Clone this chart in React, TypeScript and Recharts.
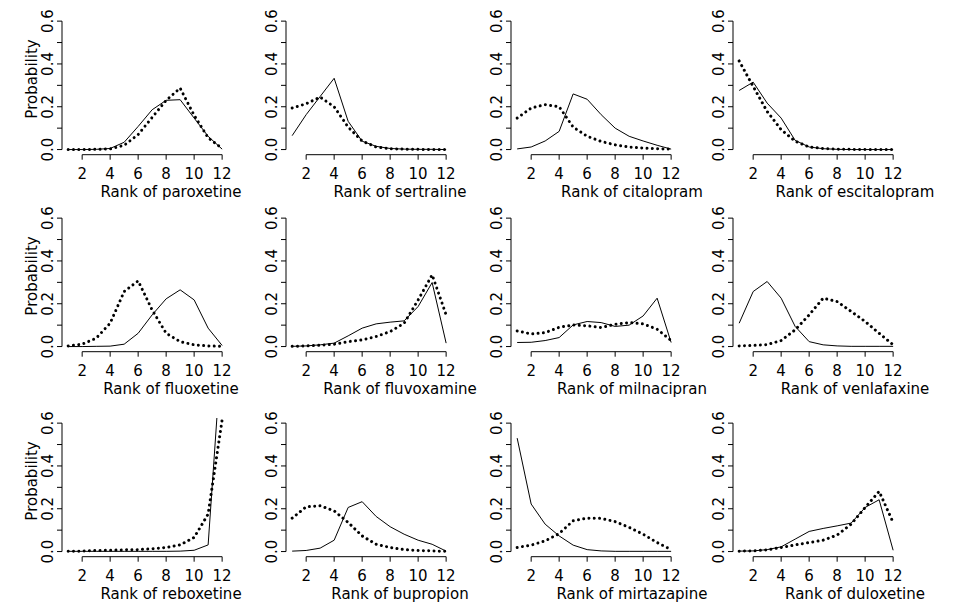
import React from "react";
import { LineChart, Line, XAxis, YAxis, ReferenceLine } from "recharts";

// ranks 1..12
const ranks = [1, 2, 3, 4, 5, 6, 7, 8, 9, 10, 11, 12];
const xTicks = [2, 4, 6, 8, 10, 12];
const yTicks = [0, 0.1, 0.2, 0.3, 0.4, 0.5, 0.6];

const drugs = [
  "paroxetine", "sertraline", "citalopram", "escitalopram",
  "fluoxetine", "fluvoxamine", "milnacipran", "venlafaxine",
  "reboxetine", "bupropion", "mirtazapine", "duloxetine",
];

// solid line / dotted line, one value per rank
const paroxetineSolid = [0, 0, 0.001, 0.005, 0.034, 0.108, 0.186, 0.23, 0.233, 0.147, 0.062, 0.002];
const paroxetineDotted = [0, 0, 0.001, 0.003, 0.02, 0.07, 0.15, 0.23, 0.287, 0.16, 0.055, 0.005];
const sertralineSolid = [0.065, 0.163, 0.248, 0.333, 0.132, 0.039, 0.015, 0.005, 0.002, 0.001, 0.001, 0];
const sertralineDotted = [0.194, 0.214, 0.245, 0.2, 0.105, 0.04, 0.012, 0.004, 0.002, 0.001, 0, 0];
const citalopramSolid = [0.003, 0.012, 0.04, 0.085, 0.26, 0.235, 0.163, 0.1, 0.062, 0.04, 0.02, 0.002];
const citalopramDotted = [0.147, 0.194, 0.21, 0.2, 0.105, 0.062, 0.038, 0.022, 0.012, 0.007, 0.004, 0.002];
const escitalopramSolid = [0.276, 0.315, 0.217, 0.147, 0.043, 0.012, 0.004, 0.001, 0, 0, 0, 0];
const escitalopramDotted = [0.414, 0.295, 0.178, 0.093, 0.039, 0.012, 0.005, 0.002, 0.001, 0, 0, 0];
const fluoxetineSolid = [0, 0, 0.001, 0.002, 0.011, 0.062, 0.148, 0.223, 0.265, 0.218, 0.086, 0.005];
const fluoxetineDotted = [0.003, 0.011, 0.039, 0.109, 0.257, 0.307, 0.171, 0.062, 0.023, 0.008, 0.003, 0.001];
const fluvoxamineSolid = [0.001, 0.003, 0.008, 0.016, 0.05, 0.086, 0.106, 0.114, 0.12, 0.187, 0.299, 0.016];
const fluvoxamineDotted = [0.001, 0.003, 0.006, 0.011, 0.023, 0.031, 0.047, 0.07, 0.109, 0.218, 0.335, 0.148];
const milnacipranSolid = [0.019, 0.02, 0.028, 0.042, 0.101, 0.117, 0.112, 0.094, 0.1, 0.143, 0.226, 0.019];
const milnacipranDotted = [0.073, 0.059, 0.065, 0.09, 0.101, 0.097, 0.089, 0.104, 0.112, 0.106, 0.081, 0.028];
const venlafaxineSolid = [0.109, 0.257, 0.304, 0.226, 0.094, 0.023, 0.008, 0.003, 0.001, 0.001, 0.001, 0.001];
const venlafaxineDotted = [0.003, 0.005, 0.009, 0.028, 0.078, 0.148, 0.226, 0.21, 0.164, 0.117, 0.062, 0.008];
const reboxetineSolid = [0.001, 0.001, 0.001, 0.001, 0.001, 0.001, 0.001, 0.001, 0.002, 0.006, 0.031, 0.98];
const reboxetineDotted = [0.001, 0.002, 0.005, 0.006, 0.008, 0.009, 0.013, 0.019, 0.031, 0.066, 0.175, 0.616];
const bupropionSolid = [0.002, 0.005, 0.016, 0.053, 0.206, 0.233, 0.164, 0.116, 0.081, 0.053, 0.034, 0.002];
const bupropionDotted = [0.156, 0.209, 0.214, 0.19, 0.136, 0.073, 0.034, 0.019, 0.009, 0.005, 0.003, 0.001];
const mirtazapineSolid = [0.53, 0.222, 0.128, 0.073, 0.03, 0.009, 0.003, 0.001, 0.001, 0.001, 0.001, 0.001];
const mirtazapineDotted = [0.019, 0.03, 0.05, 0.084, 0.144, 0.156, 0.155, 0.14, 0.113, 0.081, 0.042, 0.009];
const duloxetineSolid = [0.002, 0.003, 0.009, 0.022, 0.058, 0.094, 0.108, 0.12, 0.133, 0.206, 0.242, 0.006];
const duloxetineDotted = [0.002, 0.003, 0.008, 0.019, 0.031, 0.042, 0.053, 0.077, 0.128, 0.206, 0.281, 0.136];

const solidSeries = [
  paroxetineSolid, sertralineSolid, citalopramSolid, escitalopramSolid,
  fluoxetineSolid, fluvoxamineSolid, milnacipranSolid, venlafaxineSolid,
  reboxetineSolid, bupropionSolid, mirtazapineSolid, duloxetineSolid,
];
const dottedSeries = [
  paroxetineDotted, sertralineDotted, citalopramDotted, escitalopramDotted,
  fluoxetineDotted, fluvoxamineDotted, milnacipranDotted, venlafaxineDotted,
  reboxetineDotted, bupropionDotted, mirtazapineDotted, duloxetineDotted,
];

// layout (page pixels)
const COL_LEFT = [61.5, 285.5, 510.5, 732.5];
const ROW_TOP = [15.9, 213.2, 417.6];
const TITLE_X = [171, 400, 632, 855];
const PLOT_W = 166.3;
const PLOT_H = 138.7;
const Y_W = 70;
const M_TOP = 8;
const M_RIGHT = 8;
const X_H = 50;
const FONT = "'DejaVu Sans', Verdana, sans-serif";
const FS = 15;

const XTick = (props: any) => {
  const { x, y, payload } = props;
  return (
    <text x={x} y={y + 12} textAnchor="middle" dominantBaseline="central"
      fontFamily={FONT} fontSize={FS} fill="#000">
      {payload.value}
    </text>
  );
};

const YTick = (props: any) => {
  const { y, payload } = props;
  const v = payload.value;
  if (Math.round(v * 10) % 2 !== 0) return <g />;
  const cx = Y_W - 14;
  return (
    <text x={cx} y={y} textAnchor="middle" dominantBaseline="central"
      transform={`rotate(-90 ${cx} ${y})`}
      fontFamily={FONT} fontSize={FS} fill="#000">
      {v.toFixed(1)}
    </text>
  );
};

function Panel({ idx }: { idx: number }) {
  const col = idx % 4;
  const row = Math.floor(idx / 4);
  const solid = solidSeries[idx];
  const dotted = dottedSeries[idx];
  const data = ranks.map((r, i) => ({ rank: r, solid: solid[i], dotted: dotted[i] }));
  const left = COL_LEFT[col] - Y_W;
  const top = ROW_TOP[row] - M_TOP;
  const axisY = ROW_TOP[row] + PLOT_H;

  return (
    <>
      <div style={{ position: "absolute", left, top }}>
        <LineChart
          width={Y_W + PLOT_W + M_RIGHT}
          height={M_TOP + PLOT_H + X_H}
          data={data}
          margin={{ top: M_TOP, right: M_RIGHT, bottom: 0, left: 0 }}
        >
          <XAxis dataKey="rank" type="number" domain={[0.56, 12.44]} allowDataOverflow
            ticks={xTicks} interval={0} tickSize={5} axisLine={false}
            tickLine={{ stroke: "#000" }} height={X_H} tick={XTick} />
          <YAxis type="number" domain={[-0.024, 0.624]} allowDataOverflow
            ticks={yTicks} interval={0} tickSize={5} axisLine={false}
            tickLine={{ stroke: "#000" }} width={Y_W} tick={YTick} />
          <ReferenceLine segment={[{ x: 2, y: -0.024 }, { x: 12, y: -0.024 }]}
            stroke="#000" strokeWidth={1} ifOverflow="visible" />
          <ReferenceLine segment={[{ x: 0.56, y: 0 }, { x: 0.56, y: 0.6 }]}
            stroke="#000" strokeWidth={1} ifOverflow="visible" />
          <Line type="linear" dataKey="solid" stroke="#000" strokeWidth={1}
            dot={false} activeDot={false} isAnimationActive={false} />
          <Line type="linear" dataKey="dotted" stroke="#000" strokeWidth={3}
            strokeDasharray="0.01 5.3" strokeLinecap="round"
            dot={false} activeDot={false} isAnimationActive={false} />
        </LineChart>
      </div>
      <div style={{
        position: "absolute", left: TITLE_X[col], top: axisY + 30.5,
        transform: "translateX(-50%)", whiteSpace: "nowrap",
        fontFamily: FONT, fontSize: FS, lineHeight: 1, color: "#000",
      }}>
        Rank of {drugs[idx]}
      </div>
      {col === 0 && (
        <div style={{
          position: "absolute", left: 31.7, top: ROW_TOP[row] + 63,
          transform: "translate(-50%, -50%) rotate(-90deg)", whiteSpace: "nowrap",
          fontFamily: FONT, fontSize: FS, lineHeight: 1, color: "#000",
        }}>
          Probability
        </div>
      )}
    </>
  );
}

export default function App() {
  return (
    <div style={{ position: "absolute", left: 0, top: 0, width: 958, height: 606, background: "#fff" }}>
      {drugs.map((d, i) => <Panel key={d} idx={i} />)}
    </div>
  );
}
